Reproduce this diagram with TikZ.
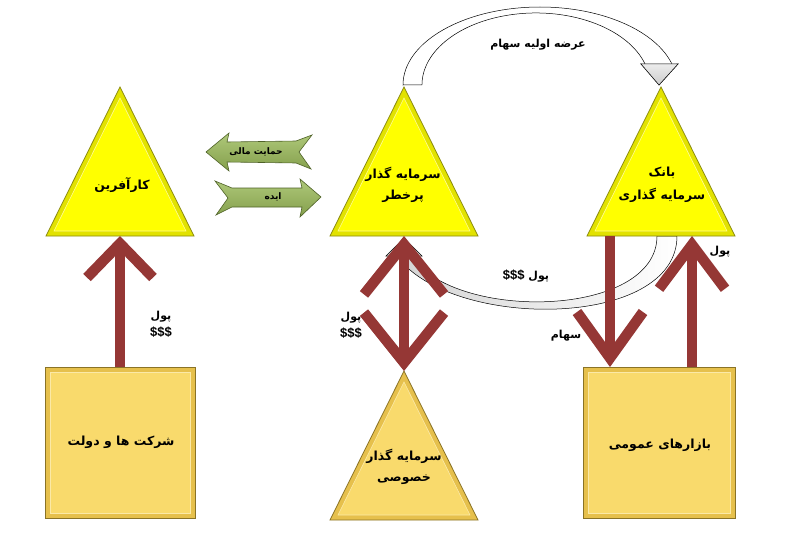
\documentclass[tikz,border=0pt]{standalone}
\usepackage{fontspec}
\setmainfont{Liberation Sans}
\newfontfamily\fafont[Script=Arabic]{DejaVu Sans}
\TeXXeTstate=1
\usetikzlibrary{calc,arrows.meta}
\definecolor{triyellow}{HTML}{FFFF00}
\definecolor{triedge}{HTML}{E2E200}
\definecolor{triline}{HTML}{8C8C10}
\definecolor{boxgold}{HTML}{F9DA6C}
\definecolor{boxedge}{HTML}{E6C04C}
\definecolor{boxline}{HTML}{8A7326}
\definecolor{flowred}{HTML}{953735}
\definecolor{leafgreen}{HTML}{9BBB59}
\definecolor{leafline}{HTML}{4F6228}
\def\fa#1{{\fafont\bfseries\beginR #1\endR}}
\def\cash{{\rmfamily\bfseries\fontsize{13}{15}\selectfont\$\$\$}}
\def\bevtri[#1/#2](#3,#4){%
  \draw[#1] (#3,#4) -- (#3+74,#4+149) -- (#3-74,#4+149) -- cycle;
  \draw[#2] (#3,#4+11) -- (#3+66,#4+144) -- (#3-66,#4+144) -- cycle;}
\def\bevbox[#1/#2](#3,#4)(#5,#6){%
  \draw[#1] (#3,#4) rectangle (#5,#6);
  \draw[#2] (#3+5,#4+5) rectangle (#5-5,#6-5);}
\tikzset{
  triout/.style={fill=triedge, draw=triline, line width=0.8pt},
  triin/.style={fill=triyellow, draw=yellow!40!white, line width=0.6pt},
  goldout/.style={fill=boxedge, draw=boxline, line width=0.8pt},
  goldin/.style={fill=boxgold, draw=boxgold!60!white, line width=0.6pt},
  flow/.style={draw=flowred, line width=10.5pt, -{Straight Barb[length=#1,width=66pt]}},
  flow/.default=34pt,
  flowboth/.style={draw=flowred, line width=10.5pt, {Straight Barb[length=50pt,width=80pt]}-{Straight Barb[length=50pt,width=80pt]}},
  leaf/.style={top color=leafgreen!80!white, bottom color=leafgreen!85!black, draw=leafline, line width=0.6pt},
  bandarrow/.style={fill=white, draw=black, line width=0.5pt},
  biglbl/.style={font=\fontsize{12.5}{21}\selectfont, align=center, inner sep=0pt},
  smalllbl/.style={font=\fontsize{11}{17}\selectfont\bfseries, align=center, inner sep=0pt},
  tinylbl/.style={font=\fontsize{9}{11}\selectfont, inner sep=0pt}
}
\begin{document}
\begin{tikzpicture}[x=1pt,y=-1pt]
  %%%%% START %%%%%
  \useasboundingbox (0,0) rectangle (787,543);
  \fill[white] (0,0) rectangle (787,543);

  % anchor points
  \coordinate (krB) at (120,236);
  \coordinate (vcB) at (404,236);
  \coordinate (ibL) at (610,236);
  \coordinate (ibR) at (692,236);
  \coordinate (pvA) at (404,371);
  \coordinate (corpN) at (120,367);
  \coordinate (pmL) at (610,367);
  \coordinate (pmR) at (692,367);

  % offer of shares, top band
  \draw[bandarrow] (403,85) arc[start angle=180, end angle=345, x radius=137, y radius=78]
    -- (678,64) -- (659,85) -- (641,64) -- (645.5,65)
    arc[start angle=343.9, end angle=180, x radius=114, y radius=72] -- cycle;
  \draw[bandarrow, top color=gray!15, bottom color=gray!40] (678,64) -- (659,85) -- (641,64) -- cycle;

  % money back, lower band
  \draw[bandarrow, left color=gray!35, right color=white]
    (657,236) .. controls (657,318) and (455,322) .. (411,256)
    -- (422,256) -- (404,238) -- (386,256) -- (397,256)
    .. controls (450,330) and (677,330) .. (677,236) -- cycle;

  % pyramids and boxes
  \bevtri[triout/triin](120,87);
  \bevtri[triout/triin](404,87);
  \bevtri[triout/triin](661,87);
  \bevtri[goldout/goldin](404,371);
  \bevbox[goldout/goldin](45,367)(195,518);
  \bevbox[goldout/goldin](583,367)(735,518);

  % green arrows
  \draw[leaf] (206,152) -- (229,133) -- (227,142) -- (296,141) -- (312,135) -- (299,152)
    -- (311,169) -- (296,163) -- (227,162) -- (229,171) -- cycle;
  \draw[leaf] (321,197) -- (300,179) -- (302,188) -- (232,188) -- (215,181) -- (228,198)
    -- (216,215) -- (232,207) -- (302,207) -- (300,217) -- cycle;

  % money and shares
  \draw[flow] (corpN) -- (krB);
  \draw[flowboth] (vcB) -- (pvA);
  \draw[flow=46pt] (ibL) -- (pmL);
  \draw[flow=44pt] (pmR) -- (ibR);

  % texts
  \node[biglbl] (krText) at (122,185) {\fa{کارآفرین}};
  \node[biglbl] (vcText) at (403,185) {\fa{سرمایه گذار}\\\fa{پرخطر}};
  \node[biglbl, font=\fontsize{12.5}{23}\selectfont] (ibText) at (662,185) {\fa{بانک}\\\fa{سرمایه گذاری}};
  \node[biglbl] (pvText) at (404,467) {\fa{سرمایه گذار}\\\fa{خصوصی}};
  \node[biglbl] (corpText) at (121,442) {\fa{شرکت ها و دولت}};
  \node[biglbl] (pmText) at (660,445) {\fa{بازارهای عمومی}};
  \node[smalllbl] (ipoText) at (538,45) {\fa{عرضه اولیه سهام}};
  \node[tinylbl] (aidText) at (256,152) {\fa{حمایت مالی}};
  \node[tinylbl] (ideaText) at (273,197) {\fa{ایده}};
  \node[smalllbl] (krMoney) at (161,324) {\fa{پول}\\\cash};
  \node[smalllbl] (pvMoney) at (351,325) {\fa{پول}\\\cash};
  \node[smalllbl] (ibMoney) at (526,276) {\fa{پول \beginL\cash\endL}};
  \node[smalllbl] (shareText) at (566,336) {\fa{سهام}};
  \node[smalllbl] (pmMoney) at (720,252) {\fa{پول}};
  %%%%% END %%%%%
\end{tikzpicture}
\end{document}
